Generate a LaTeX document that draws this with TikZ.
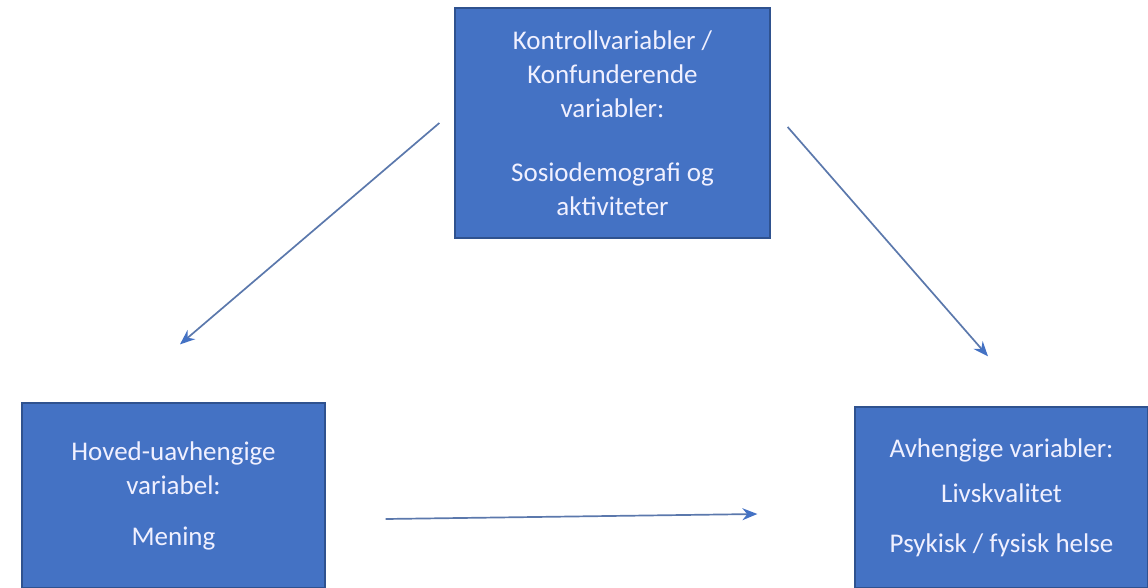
\documentclass[tikz,border=0pt]{standalone}
\usepackage{fontspec}
\setmainfont{Carlito}
\usepackage{xcolor}
\usetikzlibrary{arrows.meta}
\definecolor{boxblue}{HTML}{4472C4}
\definecolor{boxline}{HTML}{2F528F}
\definecolor{arrline}{HTML}{5B78AC}
\tikzset{
varbox/.style={draw=boxline,line width=1.3pt,fill=boxblue,text=white!94!blue,align=center,inner sep=0pt,font=\fontsize{27}{34}\selectfont},
arr/.style={draw=arrline,line width=1.7pt,-{Stealth[length=15pt,width=12pt,color=boxblue]}}
}
\begin{document}
\begin{tikzpicture}[x=1pt,y=-1pt]
\useasboundingbox (0,0) rectangle (1148,588);
\node[varbox,minimum width=315pt,minimum height=230pt](ctrl) at (612.5,123)
{Kontrollvariabler /\\Konfunderende\\variabler:\\[30pt]Sosiodemografi og\\aktiviteter};
\node[varbox,minimum width=303pt,minimum height=185pt](uavh) at (173.5,495.5)
{Hoved-uavhengige\\variabel:\\[17pt]Mening};
\node[varbox,minimum width=293pt,minimum height=181pt](avh) at (1001.5,497.5)
{Avhengige variabler:\\[11pt]Livskvalitet\\[16pt]Psykisk / fysisk helse};
\draw[arr]([xshift=-15pt]ctrl.west)--([xshift=6.5pt,yshift=58pt]uavh.north);
\draw[arr]([xshift=17pt,yshift=-4pt]ctrl.east)--([xshift=-13.5pt,yshift=50pt]avh.north);
\draw[arr]([xshift=60pt,yshift=-23.5pt]uavh.east)--([xshift=-97pt,yshift=-16.5pt]avh.west);
\end{tikzpicture}
\end{document}
